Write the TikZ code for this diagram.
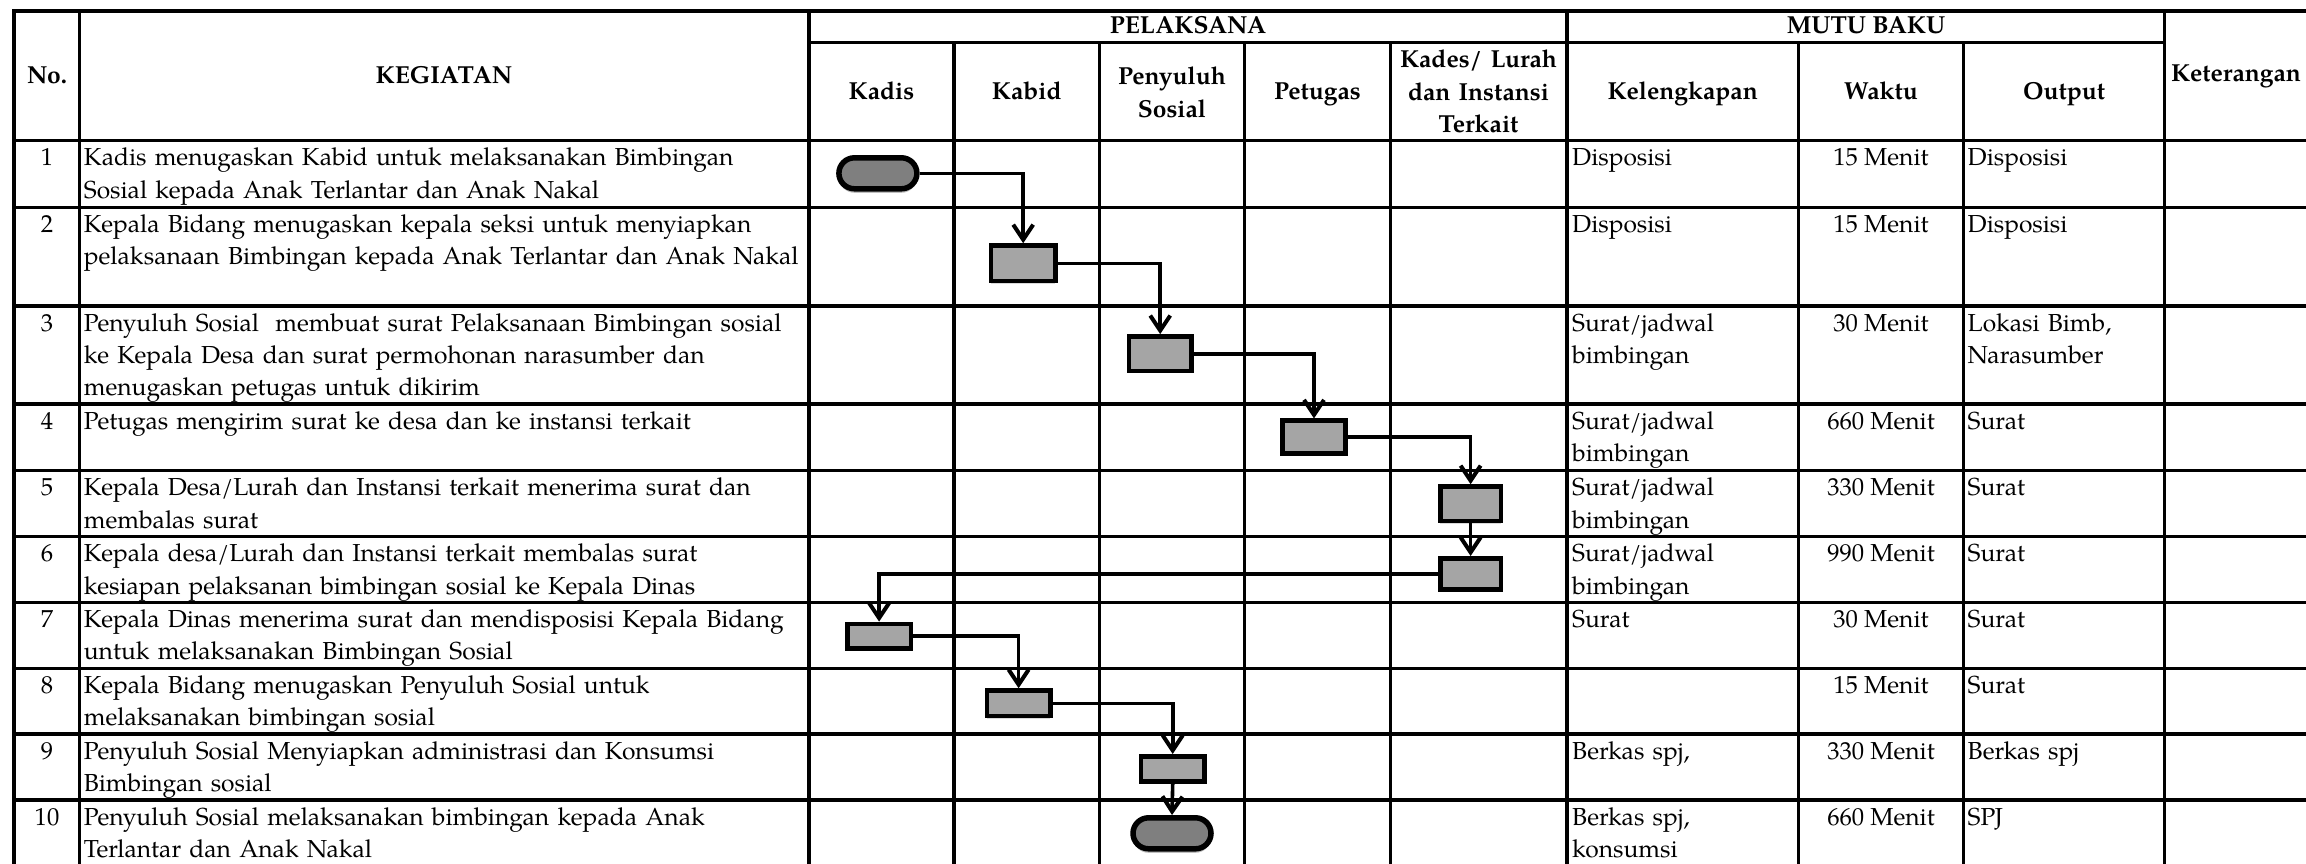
\documentclass[tikz,border=0pt]{standalone}
\usepackage{fontspec}
\setmainfont{TeX Gyre Pagella}
\usetikzlibrary{arrows.meta,shapes.misc,shadows}
\definecolor{boxfill}{HTML}{A5A5A5}
\definecolor{endfill}{HTML}{7F7F7F}
\begin{document}
\begin{tikzpicture}[x=1pt,y=-1pt,
  rule/.style={line width=3.4pt,line cap=rect},
  cell/.style={inner sep=0pt,font=\fontsize{24.6pt}{32.4pt}\selectfont},
  head/.style={cell,font=\fontsize{24.6pt}{32.4pt}\selectfont\bfseries,anchor=base},
  headm/.style={head,text width=170pt,align=center},
  num/.style={cell,anchor=base},
  act/.style={cell,anchor=base west,text width=900pt,align=left},
  kel/.style={cell,anchor=base west,text width=300pt,align=left},
  wkt/.style={cell,anchor=base},
  outp/.style={cell,anchor=base west,text width=300pt,align=left},
  proc/.style={draw,line width=4.6pt,fill=boxfill,rectangle,inner sep=0pt,
    drop shadow={shadow xshift=0pt,shadow yshift=-2.5pt,opacity=0.15,fill=black}},
  term/.style={draw,line width=5.5pt,fill=endfill,rounded rectangle,inner sep=0pt,
    minimum width=78pt,minimum height=31pt,
    drop shadow={shadow xshift=0pt,shadow yshift=-4pt,opacity=0.25,fill=black}},
  flow/.style={line width=3.6pt,-{Straight Barb[length=15pt,width=20pt,line width=4pt]}}
]
\useasboundingbox (0,0) rectangle (2306,864);

% table rules
\draw[rule] (14,11) -- (2306,11);
\draw[rule] (809,42.3) -- (2164.6,42.3);
\foreach \yy in {140.7,207.3,306,404,470.7,536.7,602.3,668.3,734,800}
  \draw[rule] (14,\yy) -- (2306,\yy);
\foreach \xx in {14,79.5,809,1567,2164.6}
  \draw[rule] (\xx,11) -- (\xx,870);
\foreach \xx in {954,1099.5,1244.4,1390.3,1798.3,1963.6}
  \draw[rule] (\xx,42.3) -- (\xx,870);

% header
\node[head] (hNo) at (47,83.3) {No.};
\node[head] (hKeg) at (444,83.3) {KEGIATAN};
\node[head] (hPel) at (1188,33.3) {PELAKSANA};
\node[head] (hMutu) at (1866,33.3) {MUTU BAKU};
\node[head] (hKadis) at (881.5,100) {Kadis};
\node[head] (hKabid) at (1026.7,100) {Kabid};
\node[headm] (hPeny) at (1172,85) {Penyuluh\\Sosial};
\node[head] (hPet) at (1317.4,100) {Petugas};
\node[headm] (hKades) at (1478.5,67.7) {Kades/ Lurah\\dan Instansi\\Terkait};
\node[head] (hKel) at (1682.7,100) {Kelengkapan};
\node[head] (hWkt) at (1881,100) {Waktu};
\node[head] (hOut) at (2064,100) {Output};
\node[head,anchor=base west] (hKet) at (2171,81.7) {Keterangan};

% row 1
\node[num] (n1) at (47,165.7) {1};
\node[act] (a1) at (83.7,165.7) {Kadis menugaskan Kabid untuk melaksanakan Bimbingan\\Sosial kepada Anak Terlantar dan Anak Nakal};
\node[kel] (k1) at (1572,165.7) {Disposisi};
\node[wkt] (w1) at (1881,165.7) {15 Menit};
\node[outp] (o1) at (1967.5,165.7) {Disposisi};
% row 2
\node[num] (n2) at (47,232.3) {2};
\node[act] (a2) at (83.7,232.3) {Kepala Bidang menugaskan kepala seksi untuk menyiapkan\\pelaksanaan Bimbingan kepada Anak Terlantar dan Anak Nakal};
\node[kel] (k2) at (1572,232.3) {Disposisi};
\node[wkt] (w2) at (1881,232.3) {15 Menit};
\node[outp] (o2) at (1967.5,232.3) {Disposisi};
% row 3
\node[num] (n3) at (47,331) {3};
\node[act] (a3) at (83.7,331) {Penyuluh Sosial\ \ membuat surat Pelaksanaan Bimbingan sosial\\ke Kepala Desa dan surat permohonan narasumber dan\\menugaskan petugas untuk dikirim};
\node[kel] (k3) at (1572,331) {Surat/jadwal\\bimbingan};
\node[wkt] (w3) at (1881,331) {30 Menit};
\node[outp] (o3) at (1967.5,331) {Lokasi Bimb,\\Narasumber};
% row 4
\node[num] (n4) at (47,429) {4};
\node[act] (a4) at (83.7,429) {Petugas mengirim surat ke desa dan ke instansi terkait};
\node[kel] (k4) at (1572,429) {Surat/jadwal\\bimbingan};
\node[wkt] (w4) at (1881,429) {660 Menit};
\node[outp] (o4) at (1967.5,429) {Surat};
% row 5
\node[num] (n5) at (47,495.7) {5};
\node[act] (a5) at (83.7,495.7) {Kepala Desa/Lurah dan Instansi terkait menerima surat dan\\membalas surat};
\node[kel] (k5) at (1572,495.7) {Surat/jadwal\\bimbingan};
\node[wkt] (w5) at (1881,495.7) {330 Menit};
\node[outp] (o5) at (1967.5,495.7) {Surat};
% row 6
\node[num] (n6) at (47,561.7) {6};
\node[act] (a6) at (83.7,561.7) {Kepala desa/Lurah dan Instansi terkait membalas surat\\kesiapan pelaksanan bimbingan sosial ke Kepala Dinas};
\node[kel] (k6) at (1572,561.7) {Surat/jadwal\\bimbingan};
\node[wkt] (w6) at (1881,561.7) {990 Menit};
\node[outp] (o6) at (1967.5,561.7) {Surat};
% row 7
\node[num] (n7) at (47,627.3) {7};
\node[act] (a7) at (83.7,627.3) {Kepala Dinas menerima surat dan mendisposisi Kepala Bidang\\untuk melaksanakan Bimbingan Sosial};
\node[kel] (k7) at (1572,627.3) {Surat};
\node[wkt] (w7) at (1881,627.3) {30 Menit};
\node[outp] (o7) at (1967.5,627.3) {Surat};
% row 8
\node[num] (n8) at (47,693.3) {8};
\node[act] (a8) at (83.7,693.3) {Kepala Bidang menugaskan Penyuluh Sosial untuk\\melaksanakan bimbingan sosial};
\node[wkt] (w8) at (1881,693.3) {15 Menit};
\node[outp] (o8) at (1967.5,693.3) {Surat};
% row 9
\node[num] (n9) at (47,759) {9};
\node[act] (a9) at (83.7,759) {Penyuluh Sosial Menyiapkan administrasi dan Konsumsi\\Bimbingan sosial};
\node[kel] (k9) at (1572,759) {Berkas spj,};
\node[wkt] (w9) at (1881,759) {330 Menit};
\node[outp] (o9) at (1967.5,759) {Berkas spj};
% row 10
\node[num] (n10) at (47,825) {10};
\node[act] (a10) at (83.7,825) {Penyuluh Sosial melaksanakan bimbingan kepada Anak\\Terlantar dan Anak Nakal};
\node[kel] (k10) at (1572,825) {Berkas spj,\\konsumsi};
\node[wkt] (w10) at (1881,825) {660 Menit};
\node[outp] (o10) at (1967.5,825) {SPJ};

% flow symbols
\node[term] (s1) at (877.9,173.3) {};
\node[proc,minimum width=64.5pt,minimum height=35.5pt] (p2) at (1023.2,263.3) {};
\node[proc,minimum width=62.5pt,minimum height=34.5pt] (p3) at (1160.2,353.7) {};
\node[proc,minimum width=62.5pt,minimum height=32.5pt] (p4) at (1314,437) {};
\node[proc,minimum width=60.5pt,minimum height=34.5pt] (p5) at (1470.6,503.8) {};
\node[proc,minimum width=60.5pt,minimum height=31.5pt] (p6) at (1470.6,574) {};
\node[proc,minimum width=63.5pt,minimum height=24.5pt] (p7) at (879.1,636.2) {};
\node[proc,minimum width=63.5pt,minimum height=25.5pt] (p8) at (1018.6,703.3) {};
\node[proc,minimum width=63.5pt,minimum height=25.5pt] (p9) at (1172.7,769) {};
\node[term] (s10) at (1172,833.3) {};

% connectors
\draw[flow] (s1.east) -| (p2.north);
\draw[flow] (p2.east) -| (p3.north);
\draw[flow] (p3.east) -| (p4.north);
\draw[flow] (p4.east) -| (p5.north);
\draw[flow] (p5.south) -- (p6.north);
\draw[flow] (p6.west) -| (p7.north);
\draw[flow] (p7.east) -| (p8.north);
\draw[flow] (p8.east) -| (p9.north);
\draw[flow] (p9.south) -- (s10.north);
\end{tikzpicture}
\end{document}
